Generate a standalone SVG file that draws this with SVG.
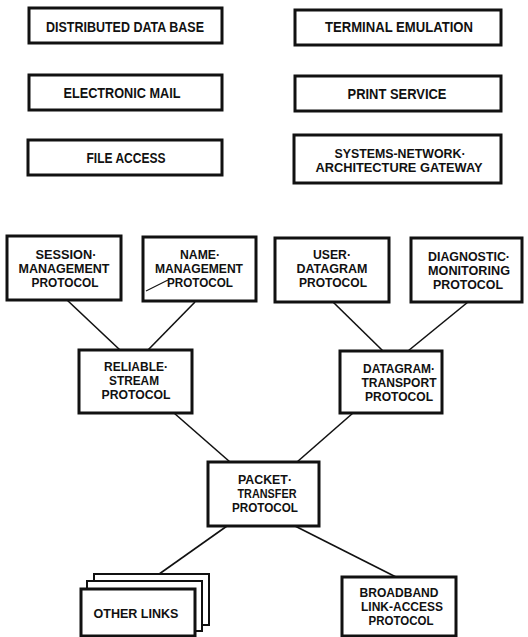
<svg xmlns="http://www.w3.org/2000/svg" width="528" height="637" viewBox="0 0 528 637">
<style>
.box{fill:#fff;stroke:#111;stroke-width:3}
.bk{fill:#fff;stroke:#111;stroke-width:2}
.t{font-family:"Liberation Sans",Arial,sans-serif;font-weight:bold;fill:#111;text-anchor:middle}
.t14{font-size:14px}
.t13{font-size:13px}
.c{stroke:#111;stroke-width:1.6;fill:none}
</style>
<rect width="528" height="637" fill="#fff"/>
<g id="connectors">
<line class="c" x1="67" y1="300" x2="120" y2="350"/>
<line class="c" x1="195" y1="302" x2="148" y2="350"/>
<line class="c" x1="333" y1="302" x2="383" y2="351"/>
<line class="c" x1="468" y1="302" x2="408" y2="351"/>
<line class="c" x1="174" y1="413" x2="230" y2="462"/>
<line class="c" x1="353" y1="413" x2="297" y2="462"/>
<line class="c" x1="227" y1="526" x2="138" y2="589"/>
<line class="c" x1="295" y1="526" x2="396" y2="577"/>
</g>
<g id="distributed-data-base">
<rect class="box" x="29" y="8" width="193" height="35"/>
<text class="t t14" x="125" y="32" textLength="158" lengthAdjust="spacingAndGlyphs">DISTRIBUTED DATA BASE</text>
</g>
<g id="electronic-mail">
<rect class="box" x="29" y="75" width="193" height="35"/>
<text class="t t14" x="122" y="98" textLength="117" lengthAdjust="spacingAndGlyphs">ELECTRONIC MAIL</text>
</g>
<g id="file-access">
<rect class="box" x="28" y="140" width="194" height="35"/>
<text class="t t14" x="126" y="163" textLength="79" lengthAdjust="spacingAndGlyphs">FILE ACCESS</text>
</g>
<g id="terminal-emulation">
<rect class="box" x="295" y="10" width="206" height="35"/>
<text class="t t14" x="399" y="32" textLength="148" lengthAdjust="spacingAndGlyphs">TERMINAL EMULATION</text>
</g>
<g id="print-service">
<rect class="box" x="295" y="76" width="206" height="35"/>
<text class="t t14" x="397" y="99" textLength="99" lengthAdjust="spacingAndGlyphs">PRINT SERVICE</text>
</g>
<g id="sna-gateway">
<rect class="box" x="294" y="135" width="207" height="48"/>
<text class="t" font-size="13.3" x="400" y="157.5" textLength="131" lengthAdjust="spacingAndGlyphs">SYSTEMS-NETWORK·</text>
<text class="t" font-size="13.3" x="399" y="172" textLength="167" lengthAdjust="spacingAndGlyphs">ARCHITECTURE GATEWAY</text>
</g>
<g id="session-management">
<rect class="box" x="7" y="236" width="114" height="64"/>
<text class="t t13" x="66" y="259" textLength="61" lengthAdjust="spacingAndGlyphs">SESSION·</text>
<text class="t t13" x="64" y="273" textLength="91" lengthAdjust="spacingAndGlyphs">MANAGEMENT</text>
<text class="t t13" x="65" y="287" textLength="67" lengthAdjust="spacingAndGlyphs">PROTOCOL</text>
</g>
<g id="name-management">
<rect class="box" x="143" y="237" width="113" height="64"/>
<text class="t t13" x="200" y="259" textLength="40" lengthAdjust="spacingAndGlyphs">NAME·</text>
<text class="t t13" x="199" y="273" textLength="88" lengthAdjust="spacingAndGlyphs">MANAGEMENT</text>
<text class="t t13" x="200" y="287" textLength="66" lengthAdjust="spacingAndGlyphs">PROTOCOL</text>
<line x1="146" y1="291" x2="168" y2="280" stroke="#111" stroke-width="1.2"/>
</g>
<g id="user-datagram">
<rect class="box" x="275" y="238" width="114" height="64"/>
<text class="t t13" x="332" y="259" textLength="38" lengthAdjust="spacingAndGlyphs">USER·</text>
<text class="t t13" x="332" y="273" textLength="71" lengthAdjust="spacingAndGlyphs">DATAGRAM</text>
<text class="t t13" x="333" y="287" textLength="68" lengthAdjust="spacingAndGlyphs">PROTOCOL</text>
</g>
<g id="diagnostic-monitoring">
<rect class="box" x="411" y="238" width="111" height="64"/>
<text class="t t13" x="469" y="261" textLength="82" lengthAdjust="spacingAndGlyphs">DIAGNOSTIC·</text>
<text class="t t13" x="469" y="275" textLength="82" lengthAdjust="spacingAndGlyphs">MONITORING</text>
<text class="t t13" x="468" y="289" textLength="70" lengthAdjust="spacingAndGlyphs">PROTOCOL</text>
</g>
<g id="reliable-stream">
<rect class="box" x="79" y="350" width="113" height="63"/>
<text class="t t13" x="136" y="371" textLength="64" lengthAdjust="spacingAndGlyphs">RELIABLE·</text>
<text class="t t13" x="134" y="385" textLength="50" lengthAdjust="spacingAndGlyphs">STREAM</text>
<text class="t t13" x="136" y="399" textLength="69" lengthAdjust="spacingAndGlyphs">PROTOCOL</text>
</g>
<g id="datagram-transport">
<rect class="box" x="340" y="351" width="102" height="62"/>
<text class="t t13" x="399" y="373" textLength="72" lengthAdjust="spacingAndGlyphs">DATAGRAM·</text>
<text class="t t13" x="399" y="387" textLength="75" lengthAdjust="spacingAndGlyphs">TRANSPORT</text>
<text class="t t13" x="399" y="401" textLength="68" lengthAdjust="spacingAndGlyphs">PROTOCOL</text>
</g>
<g id="packet-transfer">
<rect class="box" x="208" y="462" width="111" height="64"/>
<text class="t t13" x="265" y="484" textLength="54" lengthAdjust="spacingAndGlyphs">PACKET·</text>
<text class="t t13" x="267" y="498" textLength="59" lengthAdjust="spacingAndGlyphs">TRANSFER</text>
<text class="t t13" x="265" y="512" textLength="66" lengthAdjust="spacingAndGlyphs">PROTOCOL</text>
</g>
<g id="other-links">
<rect class="bk" x="94" y="574" width="115" height="51"/>
<rect class="bk" x="87" y="581" width="115" height="50"/>
<rect class="box" x="81" y="589" width="114" height="47"/>
<text class="t t13" x="136" y="618" textLength="85" lengthAdjust="spacingAndGlyphs">OTHER LINKS</text>
</g>
<g id="broadband-link-access">
<rect class="box" x="342" y="577" width="114" height="59"/>
<text class="t t13" x="399" y="597" textLength="79" lengthAdjust="spacingAndGlyphs">BROADBAND</text>
<text class="t t13" x="402" y="611" textLength="82" lengthAdjust="spacingAndGlyphs">LINK-ACCESS</text>
<text class="t t13" x="401" y="625" textLength="65" lengthAdjust="spacingAndGlyphs">PROTOCOL</text>
</g>
</svg>
